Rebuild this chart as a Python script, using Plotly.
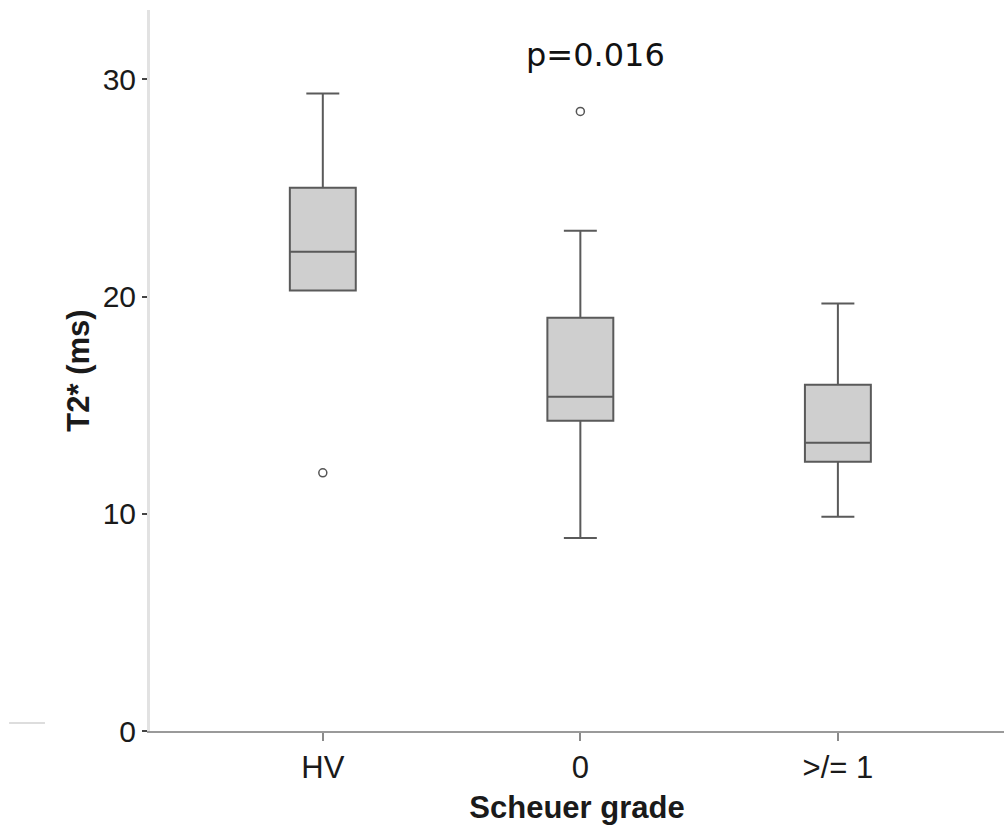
import plotly.graph_objects as go

categories = ["HV", "0", ">/= 1"]
q1 = [20.28, 14.29, 12.40]
median = [22.07, 15.39, 13.27]
q3 = [25.02, 19.03, 15.94]
lowerfence = [20.28, 8.89, 9.86]
upperfence = [29.35, 23.04, 19.68]
outlier_cat = [0, 1]
outlier_val = [11.89, 28.53]
y_ticks = [0, 10, 20, 30]
p_text = "p=0.016"

pos = list(range(len(categories)))

fig = go.Figure()
fig.add_trace(go.Box(
    x=pos, q1=q1, median=median, q3=q3,
    lowerfence=lowerfence, upperfence=upperfence,
    width=0.256, whiskerwidth=0.5,
    fillcolor="#cfcfcf",
    line=dict(color="#5a5a5a", width=2),
    boxpoints=False, hoverinfo="skip", showlegend=False,
))
fig.add_trace(go.Scatter(
    x=outlier_cat, y=outlier_val, mode="markers",
    marker=dict(symbol="circle-open", size=8, color="#555555", line=dict(width=1.5)),
    showlegend=False, hoverinfo="skip",
))

fig.add_annotation(
    x=1.06, y=31.12, xref="x", yref="y", text=p_text, showarrow=False,
    font=dict(family="DejaVu Sans", size=32, color="#111111"),
)

fig.add_shape(type="line", xref="paper", yref="paper",
              x0=-0.165, x1=-0.123, y0=0.011, y1=0.011,
              line=dict(color="#dddddd", width=2))

fig.update_layout(
    width=1004, height=832,
    margin=dict(l=150, r=0, t=10, b=101),
    paper_bgcolor="white", plot_bgcolor="white",
    font=dict(family="Liberation Sans, Arial", size=30, color="#1a1a1a"),
    xaxis=dict(
        range=[-0.671, 2.645], tickvals=pos, ticktext=categories,
        showgrid=False, zeroline=False,
        showline=True, linecolor="#9a9a9a", linewidth=2,
        ticks="outside", ticklen=8, tickwidth=2, tickcolor="#8a8a8a",
        tickfont=dict(size=31),
        title=dict(text="<b>Scheuer grade</b>", font=dict(size=31), standoff=12),
    ),
    yaxis=dict(
        range=[0, 33.2], tickvals=y_ticks,
        showgrid=False, zeroline=False,
        showline=True, linecolor="#e2e2e2", linewidth=3,
        ticks="outside", ticklen=5, tickwidth=1.5, tickcolor="#444444",
        tickfont=dict(size=30),
        title=dict(text="<b>T2* (ms)</b>", font=dict(size=31), standoff=4),
    ),
)

fig.write_html("out.html", config={"displayModeBar": False},
               post_script="document.body.style.margin='0px';document.body.style.overflow='hidden';")
